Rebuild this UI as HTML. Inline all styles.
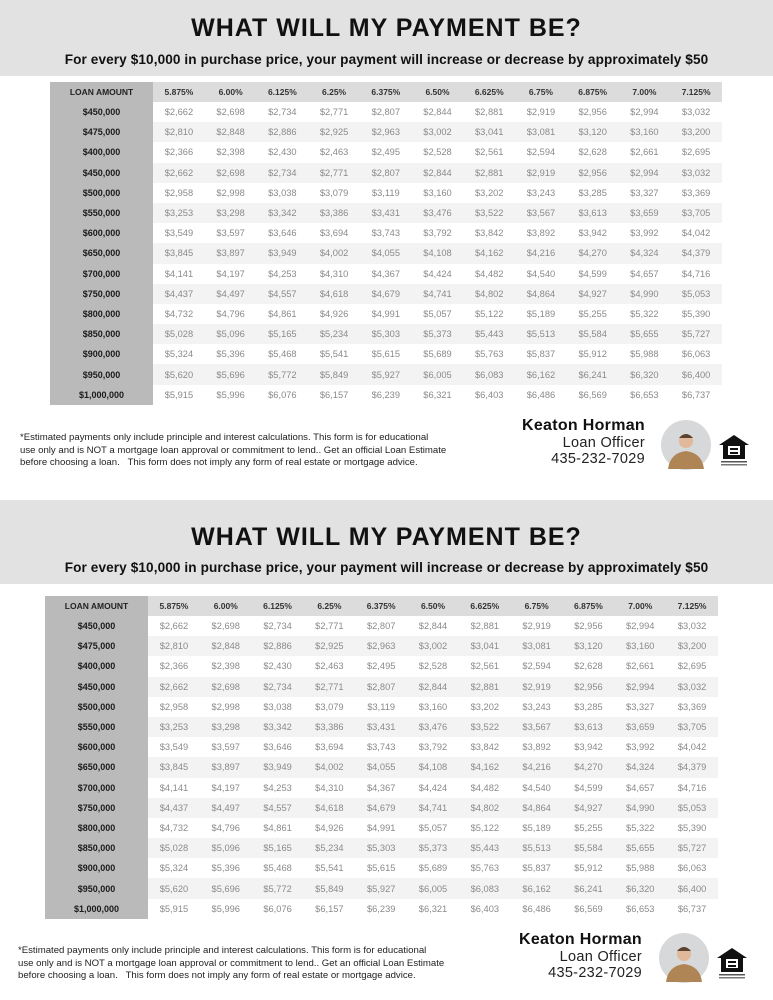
<!DOCTYPE html>
<html><head><meta charset="utf-8"><style>
*{margin:0;padding:0;box-sizing:border-box}
body{width:773px;height:1000px;background:#fff;position:relative;overflow:hidden;font-family:"Liberation Sans",sans-serif}
.band{position:absolute;left:0;width:773px;background:#e2e2e2}
.t1{position:absolute;left:0;width:773px;text-align:center;font-weight:bold;font-size:25px;color:#111;letter-spacing:1px}
.t2{position:absolute;left:0;width:773px;text-align:center;font-weight:bold;font-size:13.6px;color:#111;letter-spacing:0.1px}
table{position:absolute;border-collapse:collapse;table-layout:fixed}
td{text-align:center;font-size:9.3px;color:#8a8a8a;padding:0;white-space:nowrap}
td:first-child{background:#bababa;color:#1a1a1a;font-weight:bold;font-size:9px}
tr:nth-child(odd) td{background:#f3f3f3}
tr:nth-child(odd) td:first-child{background:#bababa}
tr:first-child td{background:#dcdcdc;color:#333;font-weight:bold;font-size:8.5px}
tr:first-child td:first-child{background:#bababa;color:#222}
.disc{position:absolute;font-size:9.6px;line-height:12.5px;color:#222}
.name{position:absolute;text-align:right;width:220px}
.name b{display:block;font-size:16px;color:#111;line-height:18px;letter-spacing:0.3px}
.name span{display:block;font-size:14.5px;color:#222;line-height:16px;letter-spacing:0.3px}
</style></head><body>

<div class="band" style="top:0;height:76px"></div>
<div class="t1" style="top:14px">WHAT WILL MY PAYMENT BE?</div>
<div class="t2" style="top:52px">For every $10,000 in purchase price, your payment will increase or decrease by approximately $50</div>

<table style="left:50px;top:82px;width:672px">
<colgroup><col style="width:103px"><col span="11" style="width:51.7px"></colgroup>
<tr style="height:20px"><td>LOAN AMOUNT</td><td>5.875%</td><td>6.00%</td><td>6.125%</td><td>6.25%</td><td>6.375%</td><td>6.50%</td><td>6.625%</td><td>6.75%</td><td>6.875%</td><td>7.00%</td><td>7.125%</td></tr>
<tr style="height:20.2px"><td>$450,000</td><td>$2,662</td><td>$2,698</td><td>$2,734</td><td>$2,771</td><td>$2,807</td><td>$2,844</td><td>$2,881</td><td>$2,919</td><td>$2,956</td><td>$2,994</td><td>$3,032</td></tr>
<tr style="height:20.2px"><td>$475,000</td><td>$2,810</td><td>$2,848</td><td>$2,886</td><td>$2,925</td><td>$2,963</td><td>$3,002</td><td>$3,041</td><td>$3,081</td><td>$3,120</td><td>$3,160</td><td>$3,200</td></tr>
<tr style="height:20.2px"><td>$400,000</td><td>$2,366</td><td>$2,398</td><td>$2,430</td><td>$2,463</td><td>$2,495</td><td>$2,528</td><td>$2,561</td><td>$2,594</td><td>$2,628</td><td>$2,661</td><td>$2,695</td></tr>
<tr style="height:20.2px"><td>$450,000</td><td>$2,662</td><td>$2,698</td><td>$2,734</td><td>$2,771</td><td>$2,807</td><td>$2,844</td><td>$2,881</td><td>$2,919</td><td>$2,956</td><td>$2,994</td><td>$3,032</td></tr>
<tr style="height:20.2px"><td>$500,000</td><td>$2,958</td><td>$2,998</td><td>$3,038</td><td>$3,079</td><td>$3,119</td><td>$3,160</td><td>$3,202</td><td>$3,243</td><td>$3,285</td><td>$3,327</td><td>$3,369</td></tr>
<tr style="height:20.2px"><td>$550,000</td><td>$3,253</td><td>$3,298</td><td>$3,342</td><td>$3,386</td><td>$3,431</td><td>$3,476</td><td>$3,522</td><td>$3,567</td><td>$3,613</td><td>$3,659</td><td>$3,705</td></tr>
<tr style="height:20.2px"><td>$600,000</td><td>$3,549</td><td>$3,597</td><td>$3,646</td><td>$3,694</td><td>$3,743</td><td>$3,792</td><td>$3,842</td><td>$3,892</td><td>$3,942</td><td>$3,992</td><td>$4,042</td></tr>
<tr style="height:20.2px"><td>$650,000</td><td>$3,845</td><td>$3,897</td><td>$3,949</td><td>$4,002</td><td>$4,055</td><td>$4,108</td><td>$4,162</td><td>$4,216</td><td>$4,270</td><td>$4,324</td><td>$4,379</td></tr>
<tr style="height:20.2px"><td>$700,000</td><td>$4,141</td><td>$4,197</td><td>$4,253</td><td>$4,310</td><td>$4,367</td><td>$4,424</td><td>$4,482</td><td>$4,540</td><td>$4,599</td><td>$4,657</td><td>$4,716</td></tr>
<tr style="height:20.2px"><td>$750,000</td><td>$4,437</td><td>$4,497</td><td>$4,557</td><td>$4,618</td><td>$4,679</td><td>$4,741</td><td>$4,802</td><td>$4,864</td><td>$4,927</td><td>$4,990</td><td>$5,053</td></tr>
<tr style="height:20.2px"><td>$800,000</td><td>$4,732</td><td>$4,796</td><td>$4,861</td><td>$4,926</td><td>$4,991</td><td>$5,057</td><td>$5,122</td><td>$5,189</td><td>$5,255</td><td>$5,322</td><td>$5,390</td></tr>
<tr style="height:20.2px"><td>$850,000</td><td>$5,028</td><td>$5,096</td><td>$5,165</td><td>$5,234</td><td>$5,303</td><td>$5,373</td><td>$5,443</td><td>$5,513</td><td>$5,584</td><td>$5,655</td><td>$5,727</td></tr>
<tr style="height:20.2px"><td>$900,000</td><td>$5,324</td><td>$5,396</td><td>$5,468</td><td>$5,541</td><td>$5,615</td><td>$5,689</td><td>$5,763</td><td>$5,837</td><td>$5,912</td><td>$5,988</td><td>$6,063</td></tr>
<tr style="height:20.2px"><td>$950,000</td><td>$5,620</td><td>$5,696</td><td>$5,772</td><td>$5,849</td><td>$5,927</td><td>$6,005</td><td>$6,083</td><td>$6,162</td><td>$6,241</td><td>$6,320</td><td>$6,400</td></tr>
<tr style="height:20.2px"><td>$1,000,000</td><td>$5,915</td><td>$5,996</td><td>$6,076</td><td>$6,157</td><td>$6,239</td><td>$6,321</td><td>$6,403</td><td>$6,486</td><td>$6,569</td><td>$6,653</td><td>$6,737</td></tr>
</table>

<div class="disc" style="left:20px;top:432px">*Estimated payments only include principle and interest calculations. This form is for educational<br>use only and is NOT a mortgage loan approval or commitment to lend.. Get an official Loan Estimate<br>before choosing a loan. &nbsp; This form does not imply any form of real estate or mortgage advice.</div>
<div class="name" style="left:425px;top:417px"><b>Keaton Horman</b><span>Loan Officer</span><span>435-232-7029</span></div>
<svg style="position:absolute;left:660px;top:419px" width="52" height="52"><circle cx="26" cy="26" r="25" fill="#d6d8da"/><path d="M8 50 Q10 34 26 32 Q42 34 44 50 Z" fill="#b08556"/><circle cx="26" cy="22" r="7" fill="#e2b89a"/><path d="M19 19 Q26 11 33 19 Z" fill="#5a4330"/></svg>
<svg style="position:absolute;left:717px;top:433px" width="34" height="34" viewBox="0 0 34 34"><path d="M17 2 L32 12 L28 12 L28 26 L6 26 L6 12 L2 12 Z" fill="#111"/><rect x="11" y="13" width="12" height="9" fill="#fff"/><rect x="13" y="15" width="8" height="2" fill="#111"/><rect x="13" y="19" width="8" height="2" fill="#111"/><rect x="4" y="28" width="26" height="1.5" fill="#555"/><rect x="4" y="31" width="26" height="1.5" fill="#777"/></svg>

<div class="band" style="top:500px;height:84px"></div>
<div class="t1" style="top:523px">WHAT WILL MY PAYMENT BE?</div>
<div class="t2" style="top:560px">For every $10,000 in purchase price, your payment will increase or decrease by approximately $50</div>

<table style="left:45px;top:596px;width:673px">
<colgroup><col style="width:103px"><col span="11" style="width:51.8px"></colgroup>
<tr style="height:20px"><td>LOAN AMOUNT</td><td>5.875%</td><td>6.00%</td><td>6.125%</td><td>6.25%</td><td>6.375%</td><td>6.50%</td><td>6.625%</td><td>6.75%</td><td>6.875%</td><td>7.00%</td><td>7.125%</td></tr>
<tr style="height:20.2px"><td>$450,000</td><td>$2,662</td><td>$2,698</td><td>$2,734</td><td>$2,771</td><td>$2,807</td><td>$2,844</td><td>$2,881</td><td>$2,919</td><td>$2,956</td><td>$2,994</td><td>$3,032</td></tr>
<tr style="height:20.2px"><td>$475,000</td><td>$2,810</td><td>$2,848</td><td>$2,886</td><td>$2,925</td><td>$2,963</td><td>$3,002</td><td>$3,041</td><td>$3,081</td><td>$3,120</td><td>$3,160</td><td>$3,200</td></tr>
<tr style="height:20.2px"><td>$400,000</td><td>$2,366</td><td>$2,398</td><td>$2,430</td><td>$2,463</td><td>$2,495</td><td>$2,528</td><td>$2,561</td><td>$2,594</td><td>$2,628</td><td>$2,661</td><td>$2,695</td></tr>
<tr style="height:20.2px"><td>$450,000</td><td>$2,662</td><td>$2,698</td><td>$2,734</td><td>$2,771</td><td>$2,807</td><td>$2,844</td><td>$2,881</td><td>$2,919</td><td>$2,956</td><td>$2,994</td><td>$3,032</td></tr>
<tr style="height:20.2px"><td>$500,000</td><td>$2,958</td><td>$2,998</td><td>$3,038</td><td>$3,079</td><td>$3,119</td><td>$3,160</td><td>$3,202</td><td>$3,243</td><td>$3,285</td><td>$3,327</td><td>$3,369</td></tr>
<tr style="height:20.2px"><td>$550,000</td><td>$3,253</td><td>$3,298</td><td>$3,342</td><td>$3,386</td><td>$3,431</td><td>$3,476</td><td>$3,522</td><td>$3,567</td><td>$3,613</td><td>$3,659</td><td>$3,705</td></tr>
<tr style="height:20.2px"><td>$600,000</td><td>$3,549</td><td>$3,597</td><td>$3,646</td><td>$3,694</td><td>$3,743</td><td>$3,792</td><td>$3,842</td><td>$3,892</td><td>$3,942</td><td>$3,992</td><td>$4,042</td></tr>
<tr style="height:20.2px"><td>$650,000</td><td>$3,845</td><td>$3,897</td><td>$3,949</td><td>$4,002</td><td>$4,055</td><td>$4,108</td><td>$4,162</td><td>$4,216</td><td>$4,270</td><td>$4,324</td><td>$4,379</td></tr>
<tr style="height:20.2px"><td>$700,000</td><td>$4,141</td><td>$4,197</td><td>$4,253</td><td>$4,310</td><td>$4,367</td><td>$4,424</td><td>$4,482</td><td>$4,540</td><td>$4,599</td><td>$4,657</td><td>$4,716</td></tr>
<tr style="height:20.2px"><td>$750,000</td><td>$4,437</td><td>$4,497</td><td>$4,557</td><td>$4,618</td><td>$4,679</td><td>$4,741</td><td>$4,802</td><td>$4,864</td><td>$4,927</td><td>$4,990</td><td>$5,053</td></tr>
<tr style="height:20.2px"><td>$800,000</td><td>$4,732</td><td>$4,796</td><td>$4,861</td><td>$4,926</td><td>$4,991</td><td>$5,057</td><td>$5,122</td><td>$5,189</td><td>$5,255</td><td>$5,322</td><td>$5,390</td></tr>
<tr style="height:20.2px"><td>$850,000</td><td>$5,028</td><td>$5,096</td><td>$5,165</td><td>$5,234</td><td>$5,303</td><td>$5,373</td><td>$5,443</td><td>$5,513</td><td>$5,584</td><td>$5,655</td><td>$5,727</td></tr>
<tr style="height:20.2px"><td>$900,000</td><td>$5,324</td><td>$5,396</td><td>$5,468</td><td>$5,541</td><td>$5,615</td><td>$5,689</td><td>$5,763</td><td>$5,837</td><td>$5,912</td><td>$5,988</td><td>$6,063</td></tr>
<tr style="height:20.2px"><td>$950,000</td><td>$5,620</td><td>$5,696</td><td>$5,772</td><td>$5,849</td><td>$5,927</td><td>$6,005</td><td>$6,083</td><td>$6,162</td><td>$6,241</td><td>$6,320</td><td>$6,400</td></tr>
<tr style="height:20.2px"><td>$1,000,000</td><td>$5,915</td><td>$5,996</td><td>$6,076</td><td>$6,157</td><td>$6,239</td><td>$6,321</td><td>$6,403</td><td>$6,486</td><td>$6,569</td><td>$6,653</td><td>$6,737</td></tr>
</table>

<div class="disc" style="left:18px;top:945px">*Estimated payments only include principle and interest calculations. This form is for educational<br>use only and is NOT a mortgage loan approval or commitment to lend.. Get an official Loan Estimate<br>before choosing a loan. &nbsp; This form does not imply any form of real estate or mortgage advice.</div>
<div class="name" style="left:422px;top:931px"><b>Keaton Horman</b><span>Loan Officer</span><span>435-232-7029</span></div>
<svg style="position:absolute;left:658px;top:932px" width="52" height="52"><circle cx="26" cy="26" r="25" fill="#d6d8da"/><path d="M8 50 Q10 34 26 32 Q42 34 44 50 Z" fill="#b08556"/><circle cx="26" cy="22" r="7" fill="#e2b89a"/><path d="M19 19 Q26 11 33 19 Z" fill="#5a4330"/></svg>
<svg style="position:absolute;left:715px;top:946px" width="34" height="34" viewBox="0 0 34 34"><path d="M17 2 L32 12 L28 12 L28 26 L6 26 L6 12 L2 12 Z" fill="#111"/><rect x="11" y="13" width="12" height="9" fill="#fff"/><rect x="13" y="15" width="8" height="2" fill="#111"/><rect x="13" y="19" width="8" height="2" fill="#111"/><rect x="4" y="28" width="26" height="1.5" fill="#555"/><rect x="4" y="31" width="26" height="1.5" fill="#777"/></svg>

</body></html>
